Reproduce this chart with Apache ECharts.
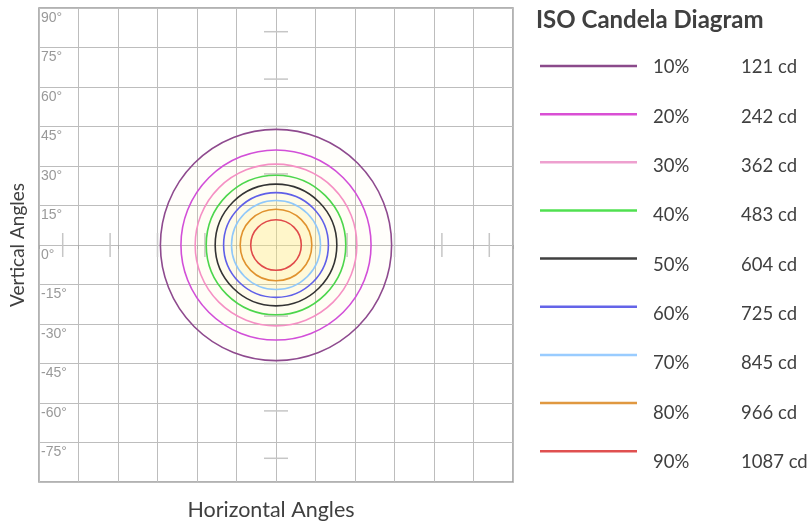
<!DOCTYPE html>
<html><head><meta charset="utf-8">
<script src="https://cdn.jsdelivr.net/npm/echarts@6/dist/echarts.min.js"></script>
<style>html,body{margin:0;padding:0;background:#fff}#c{width:811px;height:523px}</style>
</head><body><div id="c"></div>
<script>
// ---- data ----
const levels = ['10%','20%','30%','40%','50%','60%','70%','80%','90%'];
const candela = ['121 cd','242 cd','362 cd','483 cd','604 cd','725 cd','845 cd','966 cd','1087 cd'];
const radiiDeg = [43.9, 36.1, 30.7, 26.5, 23.1, 19.9, 16.9, 13.6, 9.6];
const beamCenter = [0, 0];
const markerAngles = [27, 45, 63, 81];
const lineColors = ['#8e4a8e','#d24fd8','#f590c4','#4cd64c','#333333','#5f5fe8','#90c8fa','#e0922e','#e04a4a'];
const legendColors = ['#8b4a8b','#d94fd4','#eea0cf','#50e050','#404040','#6464e8','#99ccff','#e09840','#e05050'];
const fillAlpha = [0.035, 0.025, 0.025, 0.03, 0.04, 0.05, 0.14, 0.12, 0.05];
const axisMin = -90, axisMax = 90, axisStep = 15;

// ---- build ----
const circleData = levels.map((l, i) => [beamCenter[0], beamCenter[1], radiiDeg[i], i]);
const markerData = [];
markerAngles.forEach(a => {
  markerData.push([0, a, 0]); markerData.push([0, -a, 0]);   // on vertical axis
  markerData.push([a, 0, 1]); markerData.push([-a, 0, 1]);   // on horizontal axis
});

const font = 'Lato, "Open Sans", sans-serif';
const graphics = [{
  type: 'text', left: 536, top: 8,
  style: { text: 'ISO Candela Diagram', font: 'bold 24px ' + font, fill: '#404040' }
}];
levels.forEach((l, i) => {
  const ly = 66 + i * 48.15;
  const ty = 67.5 + i * 49.3;
  graphics.push({ type: 'line', shape: { x1: 540, y1: ly, x2: 637, y2: ly },
    style: { stroke: legendColors[i], lineWidth: 2.5 } });
  graphics.push({ type: 'text', x: 653, y: ty,
    style: { text: l, font: '18.5px ' + font, fill: '#404040', textVerticalAlign: 'middle' } });
  graphics.push({ type: 'text', x: 741, y: ty,
    style: { text: candela[i], font: '18.5px ' + font, fill: '#404040', textVerticalAlign: 'middle' } });
});

const chart = echarts.init(document.getElementById('c'), null, { renderer: 'canvas' });
chart.setOption({
  animation: false,
  backgroundColor: '#fff',
  grid: { left: 39, top: 8, width: 474, height: 474, outerBoundsMode: 'none', containLabel: false,
    show: true, borderColor: '#999', borderWidth: 1.5, backgroundColor: 'transparent' },
  xAxis: {
    type: 'value', min: axisMin, max: axisMax, interval: axisStep,
    name: 'Horizontal Angles', nameLocation: 'middle', nameGap: 17,
    nameTextStyle: { fontFamily: font, fontSize: 21.5, color: '#404040', padding: [0, 10, 0, 0] },
    axisLine: { show: false },
    axisTick: { show: true, length: 4, lineStyle: { color: '#aaa' } },
    axisLabel: { show: false },
    splitLine: { show: true, lineStyle: { color: '#bdbdbd', width: 1 } }
  },
  yAxis: {
    type: 'value', min: axisMin, max: axisMax, interval: axisStep,
    name: 'Vertical Angles', nameLocation: 'middle', nameGap: 12, nameRotate: 90,
    nameTextStyle: { fontFamily: font, fontSize: 19, color: '#404040' },
    axisLine: { show: false }, axisTick: { show: false },
    axisLabel: {
      inside: true, margin: 2, verticalAlign: 'top', padding: [3, 0, 0, 0],
      fontFamily: '"Liberation Sans", Arial, sans-serif', fontSize: 14, color: '#999',
      formatter: v => v === axisMin ? '' : v + '°'
    },
    splitLine: { show: true, lineStyle: { color: '#bdbdbd', width: 1 } }
  },
  graphic: graphics,
  series: [
    {
      type: 'custom', name: 'markers', z: 1, silent: true,
      data: markerData,
      renderItem: (params, api) => {
        const p = api.coord([api.value(0), api.value(1)]);
        const h = 12;
        const shape = api.value(2) === 0
          ? { x1: p[0] - h, y1: p[1], x2: p[0] + h, y2: p[1] }
          : { x1: p[0], y1: p[1] - h, x2: p[0], y2: p[1] + h };
        return { type: 'line', shape, style: { stroke: '#c6c6c6', lineWidth: 1.5 } };
      }
    },
    {
      type: 'custom', name: 'iso', z: 2, silent: true,
      data: circleData,
      renderItem: (params, api) => {
        const c = api.coord([api.value(0), api.value(1)]);
        const s = api.size([api.value(2), api.value(2)]);
        const i = api.value(3);
        return { type: 'circle', shape: { cx: c[0], cy: c[1], r: s[0] },
          style: { fill: 'rgba(255,238,135,' + fillAlpha[i] + ')', stroke: lineColors[i], lineWidth: 1.6 } };
      }
    }
  ]
});
</script>
</body></html>
